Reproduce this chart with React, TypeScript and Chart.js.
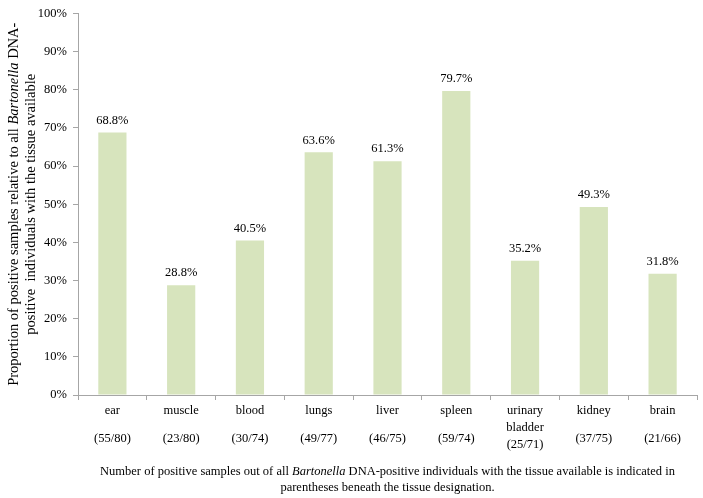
import React, { useEffect, useRef } from "react";
import { Chart, registerables } from "chart.js";

Chart.register(...registerables);

const tissues: string[][] = [["ear"], ["muscle"], ["blood"], ["lungs"], ["liver"], ["spleen"], ["urinary", "bladder"], ["kidney"], ["brain"]];
const fractions: string[] = ["(55/80)", "(23/80)", "(30/74)", "(49/77)", "(46/75)", "(59/74)", "(25/71)", "(37/75)", "(21/66)"];
const proportions: number[] = [68.8, 28.8, 40.5, 63.6, 61.3, 79.7, 35.2, 49.3, 31.8];
const yTicks: number[] = [0, 10, 20, 30, 40, 50, 60, 70, 80, 90, 100];

const FONT = "'Liberation Serif', 'DejaVu Serif', serif";
const SIZE = 12.5;
const TITLE_SIZE = 14.5;

type Seg = { t: string; i?: boolean };
const yTitle: Seg[][] = [
  [{ t: "Proportion of positive samples relative to all " }, { t: "Bartonella", i: true }, { t: " DNA-" }],
  [{ t: "positive  individuals with the tissue available" }],
];
const caption: Seg[][] = [
  [{ t: "Number of positive samples out of all " }, { t: "Bartonella", i: true }, { t: " DNA-positive individuals with the tissue available is indicated in" }],
  [{ t: "parentheses beneath the tissue designation." }],
];

function drawSegs(ctx: CanvasRenderingContext2D, segs: Seg[], cx: number, cy: number, size: number) {
  const fontOf = (s: Seg) => `${s.i ? "italic " : ""}${size}px ${FONT}`;
  let total = 0;
  for (const s of segs) { ctx.font = fontOf(s); total += ctx.measureText(s.t).width; }
  let x = cx - total / 2;
  ctx.textAlign = "left";
  ctx.textBaseline = "middle";
  for (const s of segs) { ctx.font = fontOf(s); ctx.fillText(s.t, x, cy); x += ctx.measureText(s.t).width; }
}

const annot = {
  id: "annot",
  afterDraw(chart: any) {
    const ctx: CanvasRenderingContext2D = chart.ctx;
    const xs = chart.scales.x;
    const area = chart.chartArea;
    const meta = chart.getDatasetMeta(0);
    ctx.save();
    ctx.fillStyle = "#000";
    // value labels
    ctx.font = `${SIZE}px ${FONT}`;
    ctx.textAlign = "center";
    ctx.textBaseline = "middle";
    meta.data.forEach((bar: any, i: number) => {
      ctx.fillText(proportions[i].toFixed(1) + "%", bar.x, bar.y - 12);
    });
    // category labels
    tissues.forEach((lines, i) => {
      const x = xs.getPixelForValue(i);
      lines.forEach((l, j) => ctx.fillText(l, x, 411 + j * 17));
      const fy = lines.length > 1 ? 411 + lines.length * 17 : 439;
      ctx.fillText(fractions[i], x, fy);
    });
    // caption centered under plot area
    const cx = (area.left + area.right) / 2;
    caption.forEach((segs, k) => drawSegs(ctx, segs, cx, 472 + k * 16, SIZE));
    // y title
    const cy = (area.top + area.bottom) / 2;
    ctx.save();
    ctx.rotate(-Math.PI / 2);
    yTitle.forEach((segs, k) => drawSegs(ctx, segs, -cy, 14 + k * 17, TITLE_SIZE));
    ctx.restore();
    ctx.restore();
  },
};

export default function App() {
  const ref = useRef<HTMLCanvasElement>(null);
  useEffect(() => {
    document.body.style.margin = "0";
    const chart = new Chart(ref.current!, {
      type: "bar",
      data: {
        labels: tissues.map((t) => t.join(" ")),
        datasets: [{
          data: proportions,
          backgroundColor: "#d7e4bd",
          barPercentage: 0.41,
          categoryPercentage: 1,
        }],
      },
      options: {
        animation: false,
        responsive: false,
        layout: { padding: { top: 11, right: 6, left: 0, bottom: 0 } },
        plugins: { legend: { display: false }, tooltip: { enabled: false } },
        scales: {
          x: {
            offset: true,
            grid: { offset: true, drawOnChartArea: false, tickLength: 5, color: "#a6a6a6" },
            border: { color: "#a6a6a6" },
            ticks: { display: false },
            afterFit: (s: any) => { s.height = 103; },
          },
          y: {
            min: 0,
            max: 100,
            afterBuildTicks: (s: any) => { s.ticks = yTicks.map((v) => ({ value: v })); },
            grid: { drawOnChartArea: false, tickLength: 5, color: "#a6a6a6" },
            border: { color: "#a6a6a6" },
            ticks: {
              color: "#000",
              padding: 6,
              font: { family: FONT, size: SIZE },
              callback: (v: any) => v + "%",
            },
            afterFit: (s: any) => { s.width = 78; },
          },
        },
      },
      plugins: [annot],
    });
    return () => chart.destroy();
  }, []);
  return <canvas ref={ref} width={703} height={498} style={{ display: "block" }} />;
}
